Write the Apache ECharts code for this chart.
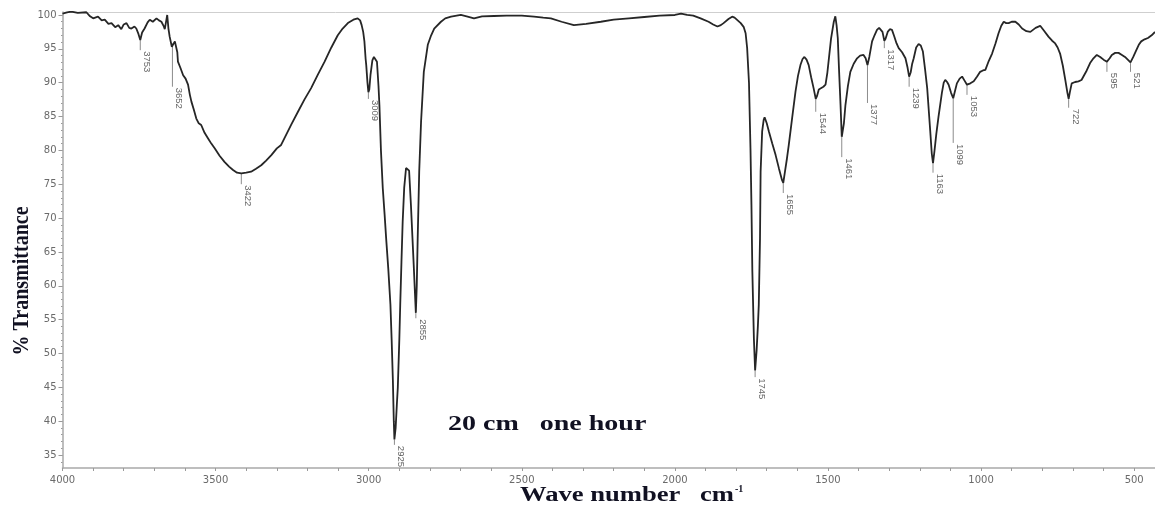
<!DOCTYPE html>
<html>
<head>
<meta charset="utf-8">
<script src="https://cdn.jsdelivr.net/npm/echarts@6/dist/echarts.min.js"></script>
<style>
html,body{margin:0;padding:0;background:#fff;}
#chart{width:1155px;height:508px;}
</style>
</head>
<body>
<div id="chart"></div>
<script>
// ---- data ----
const wavenumbers = [
4000,3985,3971,3950,3922,3910,3900,3884,3872,3862,3850,3840,3828,3818,3808,3800,3791,3782,3775,3765,
3759,3752,3746,3740,3732,3722,3715,3705,3693,3685,3677,3670,3666,3661,3658,3654,3650,3643,3639,3633,
3628,3625,3623,3615,3606,3598,3590,3584,3579,3571,3563,3555,3547,3536,3525,3514,3503,3487,3471,3456,
3443,3430,3416,3400,3384,3368,3351,3335,3318,3300,3286,3275,3253,3231,3210,3188,3166,3144,3122,3101,
3085,3068,3050,3036,3028,3023,3018,3014,3010,3008,3004,3001,2998,2994,2988,2983,2978,2973,2968,2965,
2960,2954,2948,2943,2936,2929,2925,2921,2918,2916,2912,2908,2905,2900,2897,2893,2889,2884,2878,2872,
2868,2862,2857,2853,2849,2846,2843,2840,2835,2829,2820,2807,2796,2786,2764,2750,2731,2699,2680,2656,
2630,2591,2550,2500,2460,2430,2405,2370,2330,2290,2242,2200,2150,2100,2050,2000,1980,1960,1940,1916,
1890,1875,1861,1850,1841,1825,1813,1805,1795,1785,1775,1769,1764,1758,1753,1750,1747,1742,1738,1733,
1729,1726,1722,1720,1715,1710,1707,1700,1693,1682,1671,1660,1650,1646,1640,1634,1628,1617,1606,1598,
1590,1583,1577,1570,1563,1555,1547,1540,1536,1530,1525,1515,1508,1502,1497,1490,1481,1476,1472,1468,
1464,1459,1455,1452,1448,1443,1435,1427,1416,1405,1395,1384,1377,1371,1365,1356,1348,1340,1333,1329,
1322,1316,1312,1305,1298,1291,1284,1276,1269,1258,1247,1240,1235,1230,1225,1220,1212,1204,1197,1190,
1183,1176,1171,1166,1161,1157,1152,1146,1139,1128,1122,1117,1111,1106,1098,1091,1085,1079,1070,1062,
1054,1046,1035,1024,1013,1003,994,986,975,964,953,943,934,926,918,910,900,888,877,866,
852,839,822,807,795,780,768,758,750,742,733,725,718,714,710,704,693,682,672,666,
655,644,633,622,611,600,589,580,573,562,551,540,530,521,512,503,493,485,477,466,
455,443,432
];
const transmittance = [
100.2,100.4,100.5,100.3,100.4,99.8,99.5,99.75,99.2,99.3,98.7,98.8,98.2,98.5,97.9,98.6,98.8,98.1,98.0,98.3,
98.0,97.2,96.3,97.4,98.0,98.9,99.3,99.0,99.5,99.2,99.0,98.4,97.9,99.2,100.0,98.0,96.8,95.3,95.2,96.1,
96.3,94.5,93.1,92.2,91.1,90.6,89.7,88.2,87.2,86.0,84.7,84.0,83.75,82.6,81.8,81.0,80.3,79.2,78.3,77.6,
77.1,76.7,76.6,76.7,76.85,77.3,77.8,78.5,79.3,80.3,80.8,81.8,83.8,85.7,87.5,89.2,91.2,93.1,95.2,97.0,
98.0,98.8,99.3,99.5,99.2,98.5,97.5,96.1,93.5,92.6,90.0,88.6,89.0,91.2,93.3,93.8,93.6,93.1,89.5,86.7,
80.0,74.4,70.5,67.0,62.5,57.2,52.0,46.0,40.0,37.3,39.0,42.5,44.9,52.0,57.2,63.5,69.5,74.5,77.4,77.6,
77.0,71.9,67.0,63.1,59.0,56.0,60.0,67.0,76.9,84.2,91.6,95.6,97.0,98.0,99.0,99.5,99.75,100.0,99.8,99.5,
99.8,99.85,99.9,99.9,99.75,99.6,99.5,99.0,98.5,98.7,99.0,99.3,99.5,99.7,99.9,100.0,100.2,100.0,99.9,99.5,
99.0,98.6,98.3,98.5,98.8,99.4,99.75,99.6,99.2,98.8,98.2,97.3,95.1,90.0,80.0,72.0,62.1,52.2,47.5,50.5,
54.0,57.2,67.0,76.9,82.8,84.5,84.9,84.0,82.8,81.0,79.3,77.3,75.6,75.2,77.0,78.8,80.8,84.8,88.7,91.0,
92.6,93.5,93.8,93.4,92.6,90.8,89.2,87.6,88.0,89.0,89.2,89.4,89.7,91.5,93.6,96.5,99.0,99.8,98.5,96.6,
92.0,86.7,82.0,82.2,84.0,86.7,89.5,91.6,92.8,93.6,94.0,94.1,93.6,92.6,93.8,96.1,97.0,97.8,98.1,98.1,
97.5,96.2,96.5,97.5,97.9,97.8,96.9,95.8,95.1,94.5,93.6,92.2,90.9,91.5,92.8,93.6,95.2,95.7,95.5,94.6,
92.0,89.2,86.0,82.8,79.5,78.1,80.0,82.5,85.0,88.5,90.0,90.4,90.1,89.7,88.5,87.7,88.8,89.9,90.6,90.9,
90.3,89.7,89.9,90.2,90.9,91.6,91.8,91.9,93.2,94.3,95.8,97.3,98.4,99.0,98.8,98.8,99.0,99.0,98.6,98.0,
97.6,97.5,98.1,98.4,97.7,96.8,96.2,95.8,95.2,94.3,92.5,90.4,88.5,87.6,88.6,89.9,90.1,90.2,90.4,90.6,
91.8,92.9,93.6,94.1,93.8,93.4,93.1,93.6,94.1,94.4,94.4,94.1,93.8,93.4,93.0,93.8,94.8,95.6,96.1,96.4,
96.6,97.0,97.5
];

// peak annotations: position on the curve, label, curve value, end of leader line
const peakPos   = [3746,3641,3416,3001,2916,2846,1738,1646,1540,1455,1371,1316,1235,1157,1091,1046,714,589,512];
const peakText  = ['3753','3652','3422','3009','2925','2855','1745','1655','1544','1461','1377','1317','1239','1163','1099','1053','722','595','521'];
const peakMin   = [96.3,95.8,76.6,88.6,37.3,56.0,47.5,75.2,87.6,82.0,92.6,96.2,90.9,78.1,87.7,89.7,87.6,93.1,93.0];
const peakEnd   = [94.8,89.4,75.0,87.6,36.5,55.2,46.5,73.7,85.7,79.0,87.0,95.1,89.4,76.7,81.1,88.2,86.3,91.6,91.6];

const xTickLabels = [4000,3500,3000,2500,2000,1500,1000,500];
const yTickLabels = [35,40,45,50,55,60,65,70,75,80,85,90,95,100];

const xMinor = []; for (let v = 500; v <= 4000; v += 100) xMinor.push(v);
const yMinor = []; for (let v = 34; v <= 100; v += 1) yMinor.push(v);

const X_MIN = 432, X_MAX = 4000, Y_MIN = 33.08, Y_MAX = 100.44;

const curve = wavenumbers.map((w, i) => [w, transmittance[i]]);
const peaks = peakPos.map((w, i) => [w, peakMin[i], peakEnd[i], i]);

const chart = echarts.init(document.getElementById('chart'), null, {renderer: 'canvas'});
const tickFont = {color: '#6a6a6a', fontFamily: 'DejaVu Sans', fontSize: 10, formatter: function (v) { return String(v); }};
const serif = '"Liberation Serif", "Times New Roman", serif';

chart.setOption({
  animation: false,
  backgroundColor: '#ffffff',
  grid: {left: 62.5, top: 12, width: 1092.5, height: 456},
  xAxis: [{
    type: 'value', inverse: true, min: X_MIN, max: X_MAX, position: 'bottom',
    axisLine: {show: true, lineStyle: {color: '#a9a9a9', width: 1.5}},
    axisTick: {show: true, customValues: xMinor, length: 3, lineStyle: {color: '#9a9a9a'}},
    axisLabel: Object.assign({customValues: xTickLabels, margin: 7}, tickFont),
    splitLine: {show: false}
  }, {
    type: 'value', inverse: true, min: X_MIN, max: X_MAX, position: 'top',
    axisLine: {show: true, lineStyle: {color: '#cfcfcf', width: 1}},
    axisTick: {show: false}, axisLabel: {show: false}, splitLine: {show: false}
  }],
  yAxis: [{
    type: 'value', min: Y_MIN, max: Y_MAX, position: 'left',
    axisLine: {show: true, lineStyle: {color: '#a9a9a9', width: 1.5}},
    axisTick: {show: true, customValues: yTickLabels, length: 4, lineStyle: {color: '#9a9a9a'}},
    axisLabel: Object.assign({customValues: yTickLabels, margin: 6}, tickFont),
    splitLine: {show: false}
  }, {
    type: 'value', min: Y_MIN, max: Y_MAX, position: 'left',
    axisLine: {show: false},
    axisTick: {show: true, customValues: yMinor, length: 1.5, lineStyle: {color: '#9a9a9a'}},
    axisLabel: {show: false}, splitLine: {show: false}
  }],
  series: [{
    type: 'line', data: curve, xAxisIndex: 0, yAxisIndex: 0,
    symbol: 'none', showSymbol: false, smooth: false,
    lineStyle: {color: '#262626', width: 1.8}, silent: true
  }, {
    type: 'custom', data: peaks, xAxisIndex: 0, yAxisIndex: 0, silent: true,
    encode: {x: 0, y: 1},
    renderItem: function (params, api) {
      const w = api.value(0);
      const p1 = api.coord([w, api.value(1)]);
      const p2 = api.coord([w, api.value(2)]);
      const idx = api.value(3);
      return {
        type: 'group',
        children: [{
          type: 'line',
          shape: {x1: p1[0], y1: p1[1], x2: p2[0], y2: p2[1]},
          style: {stroke: '#8c8c8c', lineWidth: 1}
        }, {
          type: 'text',
          x: p2[0] + 1.5, y: p2[1] + 1,
          rotation: -Math.PI / 2,
          style: {text: peakText[idx], fill: '#666666', font: '9.5px "Liberation Sans", Arial, sans-serif',
                  align: 'left', verticalAlign: 'bottom'}
        }]
      };
    }
  }],
  graphic: [{
    type: 'text', x: 448, y: 425, scaleX: 1.4,
    style: {text: '20 cm   one hour', fill: '#111122', font: 'bold 20px ' + serif, align: 'left', verticalAlign: 'middle'}
  }, {
    type: 'text', x: 520, y: 496, scaleX: 1.33,
    style: {text: 'Wave number', fill: '#111122', font: 'bold 20px ' + serif, align: 'left', verticalAlign: 'middle'}
  }, {
    type: 'text', x: 700, y: 496, scaleX: 1.33,
    style: {text: 'cm', fill: '#111122', font: 'bold 20px ' + serif, align: 'left', verticalAlign: 'middle'}
  }, {
    type: 'text', x: 735, y: 489,
    style: {text: '-1', fill: '#111122', font: 'bold 10px ' + serif, align: 'left', verticalAlign: 'middle'}
  }, {
    type: 'text', x: 22, y: 281, rotation: Math.PI / 2, scaleY: 1.2,
    style: {text: '% Transmittance', fill: '#111122', font: 'bold 20px ' + serif, align: 'center', verticalAlign: 'middle'}
  }]
});
</script>
</body>
</html>
